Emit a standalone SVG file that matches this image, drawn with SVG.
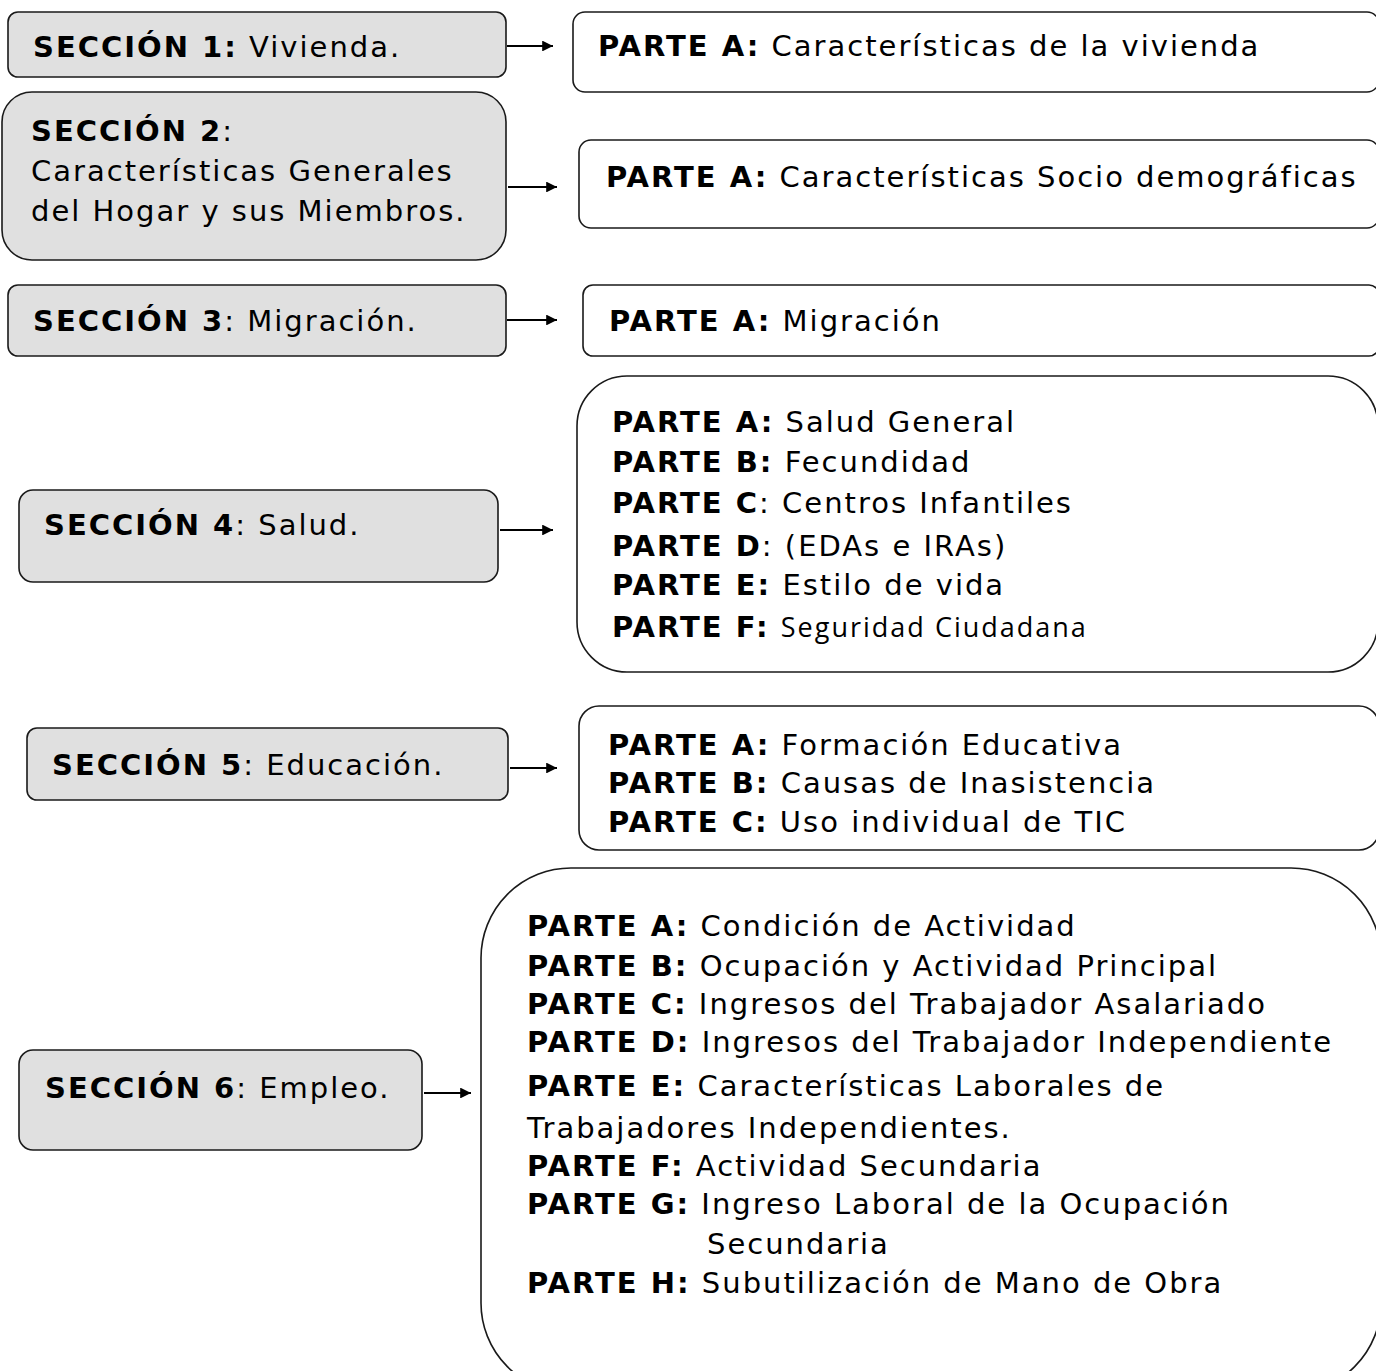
<svg xmlns="http://www.w3.org/2000/svg" width="1376" height="1371" viewBox="0 0 1376 1371">
<defs>
<style>
.sec{fill:#e0e0e0;stroke:#1a1a1a;stroke-width:1.6}
.part{fill:#ffffff;stroke:#1a1a1a;stroke-width:1.6}
text{font-family:"DejaVu Sans",Verdana,sans-serif;font-size:29px;fill:#000;letter-spacing:2px}
.b{font-weight:bold}
.cal{font-family:"Open Sans","Noto Sans",sans-serif;font-size:27px}
.conn{stroke:#000;stroke-width:1.8;fill:none;marker-end:url(#ah)}
</style>
<marker id="ah" viewBox="0 0 10 10" refX="10" refY="5" markerWidth="7" markerHeight="6" markerUnits="strokeWidth" orient="auto">
<path d="M0,0 L10,5 L0,10 z" fill="#000"/>
</marker>
<clipPath id="c5"><rect x="579" y="706" width="800" height="128"/></clipPath>
</defs>
<g id="connectors">
<line class="conn" x1="507" y1="46" x2="553" y2="46"/>
<line class="conn" x1="508" y1="187" x2="557" y2="187"/>
<line class="conn" x1="507" y1="320" x2="557" y2="320"/>
<line class="conn" x1="500" y1="530" x2="553" y2="530"/>
<line class="conn" x1="510" y1="768" x2="557" y2="768"/>
<line class="conn" x1="424" y1="1093" x2="471" y2="1093"/>
</g>
<g id="s1"><rect class="sec" x="8" y="12" width="498" height="65" rx="10"/>
<text x="33" y="57"><tspan class="b">SECCIÓN 1:</tspan> Vivienda.</text></g>
<g id="p1"><rect class="part" x="573" y="12" width="806" height="80" rx="12"/>
<text x="598" y="56"><tspan class="b">PARTE A:</tspan> Características de la vivienda</text></g>
<g id="s2"><rect class="sec" x="2" y="92" width="504" height="168" rx="30"/>
<text x="31" y="141"><tspan class="b">SECCIÓN 2</tspan>:</text>
<text x="31" y="181">Características Generales</text>
<text x="31" y="221">del Hogar y sus Miembros.</text></g>
<g id="p2"><rect class="part" x="579" y="140" width="800" height="88" rx="12"/>
<text x="606" y="187"><tspan class="b">PARTE A:</tspan> Características Socio demográficas</text></g>
<g id="s3"><rect class="sec" x="8" y="285" width="498" height="71" rx="10"/>
<text x="33" y="331"><tspan class="b">SECCIÓN 3</tspan>: Migración.</text></g>
<g id="p3"><rect class="part" x="583" y="285" width="796" height="71" rx="10"/>
<text x="609" y="331"><tspan class="b">PARTE A:</tspan> Migración</text></g>
<g id="s4"><rect class="sec" x="19" y="490" width="479" height="92" rx="14"/>
<text x="44" y="535"><tspan class="b">SECCIÓN 4</tspan>: Salud.</text></g>
<g id="p4"><rect class="part" x="577" y="376" width="801" height="296" rx="50"/>
<text x="612" y="432"><tspan class="b">PARTE A:</tspan> Salud General</text>
<text x="612" y="472"><tspan class="b">PARTE B:</tspan> Fecundidad</text>
<text x="612" y="513"><tspan class="b">PARTE C</tspan>: Centros Infantiles</text>
<text x="612" y="556"><tspan class="b">PARTE D</tspan>: (EDAs  e IRAs)</text>
<text x="612" y="595"><tspan class="b">PARTE E:</tspan> Estilo de vida</text>
<text x="612" y="637"><tspan class="b">PARTE F:</tspan> <tspan class="cal">Seguridad Ciudadana</tspan></text></g>
<g id="s5"><rect class="sec" x="27" y="728" width="481" height="72" rx="10"/>
<text x="52" y="775"><tspan class="b">SECCIÓN 5</tspan>: Educación.</text></g>
<g id="p5"><rect class="part" x="579" y="706" width="800" height="144" rx="20"/>
<g clip-path="url(#c5)">
<text x="608" y="755"><tspan class="b">PARTE A:</tspan> Formación Educativa</text>
<text x="608" y="793"><tspan class="b">PARTE B:</tspan> Causas de Inasistencia</text>
<text x="608" y="832"><tspan class="b">PARTE C:</tspan> Uso individual de TIC</text></g></g>
<g id="s6"><rect class="sec" x="19" y="1050" width="403" height="100" rx="14"/>
<text x="45" y="1098"><tspan class="b">SECCIÓN 6</tspan>: Empleo.</text></g>
<g id="p6"><rect class="part" x="481" y="868" width="900" height="525" rx="90"/>
<text x="527" y="936"><tspan class="b">PARTE A:</tspan> Condición de Actividad</text>
<text x="527" y="976"><tspan class="b">PARTE B:</tspan> Ocupación y Actividad Principal</text>
<text x="527" y="1014"><tspan class="b">PARTE C:</tspan> Ingresos del Trabajador Asalariado</text>
<text x="527" y="1052"><tspan class="b">PARTE D:</tspan> Ingresos del Trabajador Independiente</text>
<text x="527" y="1096"><tspan class="b">PARTE E:</tspan> Características Laborales de</text>
<text x="527" y="1138">Trabajadores Independientes.</text>
<text x="527" y="1176"><tspan class="b">PARTE F:</tspan> Actividad Secundaria</text>
<text x="527" y="1214"><tspan class="b">PARTE G:</tspan> Ingreso Laboral de la Ocupación</text>
<text x="707" y="1254">Secundaria</text>
<text x="527" y="1293"><tspan class="b">PARTE H:</tspan> Subutilización de Mano de Obra</text></g>
</svg>
